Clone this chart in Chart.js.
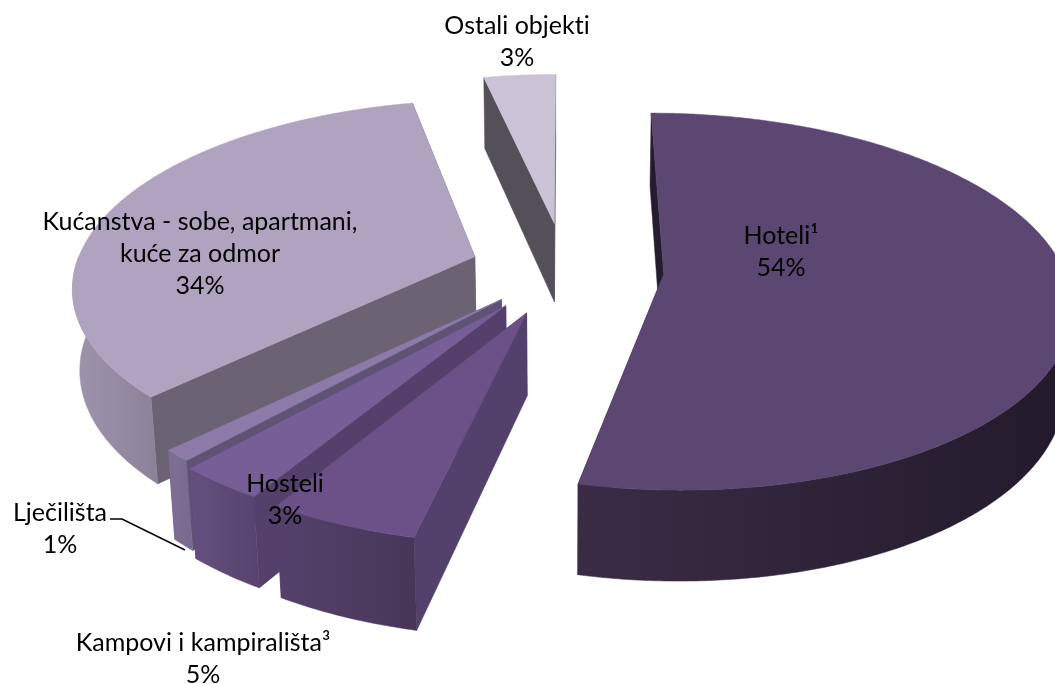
<!DOCTYPE html>
<html>
<head>
<meta charset="utf-8">
<title>Smještajni objekti</title>
<script src="https://cdn.jsdelivr.net/npm/chart.js@4/dist/chart.umd.min.js"></script>
<style>
    html, body { margin: 0; padding: 0; background: #fff; }
    canvas { display: block; }
</style>
</head>
<body>
<canvas id="grafico-pita" width="1055" height="684"></canvas>
<script>
const categories = ['Hoteli¹', 'Kampovi i kampirališta³', 'Hosteli', 'Lječilišta', ['Kućanstva - sobe, apartmani,', 'kuće za odmor'], 'Ostali objekti'];
const shares = [53.5, 5.1, 3.0, 1.0, 34.0, 3.4];

// how far each slice is pulled out of the pie
const explode = [99, 100, 97, 90, 95, 104];

const topColors = ['#5b4772', '#6b5187', '#775e96', '#8d7aa8', '#b0a3c0', '#cac2d6'];
const wallLeft = ['#3b2c45', '#55416a', '#64507e', '#7d6e94', '#9e94ac', '#9e94ac'];
const wallRight = ['#221a2b', '#483659', '#58436f', '#786a8e', '#8c8298', '#8c8298'];
const faceColors = ['#251c2e', '#53416b', '#54406a', '#5f5275', '#6b6374', '#54505a'];

// label centres (first line), line height is the same everywhere
const labelSpots = [
    { x: 781, y: 236 },
    { x: 203, y: 643 },
    { x: 285, y: 484 },
    { x: 60, y: 513 },
    { x: 200, y: 222 },
    { x: 517, y: 26 }
];
const lineHeight = 32;

// back to front
const drawOrder = [5, 4, 3, 2, 1, 0];

const squash = 0.4575;
const perspective = 0.146;
const converge = 0.015;
const thickness = 82;

function makeProjector(arc) {
    return function (X, Z, h) {
        const d = 1 + perspective * Z / arc.outerRadius + converge * h;
        return { x: arc.x + X / d, y: arc.y - squash * Z / d + thickness * h / d };
    };
}

function tracePath(ctx, points, color) {
    ctx.beginPath();
    points.forEach(function (p, i) {
        if (i === 0) ctx.moveTo(p.x, p.y);
        else ctx.lineTo(p.x, p.y);
    });
    ctx.closePath();
    ctx.fillStyle = color;
    ctx.strokeStyle = color;
    ctx.lineWidth = 0.5;
    ctx.fill();
    ctx.stroke();
}

function drawSlice(ctx, arc, i) {
    const project = makeProjector(arc);
    const mid = (arc.startAngle + arc.endAngle) / 2;
    const apexX = Math.cos(mid) * explode[i];
    const apexZ = -Math.sin(mid) * explode[i];

    function rim(angle, h) {
        return project(apexX + Math.cos(angle) * arc.outerRadius, apexZ - Math.sin(angle) * arc.outerRadius, h);
    }
    function sweep(from, to, h) {
        const pts = [];
        const steps = Math.max(2, Math.ceil(Math.abs(to - from) / 0.01));
        for (let s = 0; s <= steps; s++) {
            pts.push(rim(from + (to - from) * s / steps, h));
        }
        return pts;
    }

    // cut faces, the ones turned away go first
    const startFace = [project(apexX, apexZ, 0), rim(arc.startAngle, 0), rim(arc.startAngle, 1), project(apexX, apexZ, 1)];
    const endFace = [project(apexX, apexZ, 0), rim(arc.endAngle, 0), rim(arc.endAngle, 1), project(apexX, apexZ, 1)];
    const startFacing = Math.sin(arc.startAngle - Math.PI / 2) > 0;
    const faces = startFacing ? [endFace, startFace] : [startFace, endFace];
    faces.forEach(function (f) { tracePath(ctx, f, faceColors[i]); });

    // outer wall, only the front half of the rim (angles 0..PI on the canvas)
    const from = Math.max(arc.startAngle, 0);
    const to = Math.min(arc.endAngle, Math.PI);
    if (to > from) {
        const upper = sweep(from, to, 0);
        const lower = sweep(to, from, 1);
        const xs = upper.concat(lower).map(function (p) { return p.x; });
        const grad = ctx.createLinearGradient(Math.min.apply(null, xs), 0, Math.max.apply(null, xs), 0);
        grad.addColorStop(0, wallLeft[i]);
        grad.addColorStop(1, wallRight[i]);
        tracePath(ctx, upper.concat(lower), grad);
    }

    // top face
    tracePath(ctx, [project(apexX, apexZ, 0)].concat(sweep(arc.startAngle, arc.endAngle, 0)), arc.options.backgroundColor);
}

const pie3d = {
    id: 'pie3d',
    beforeDatasetsDraw(chart) {
        const ctx = chart.ctx;
        const arcs = chart.getDatasetMeta(0).data;
        ctx.save();
        drawOrder.forEach(function (i) { drawSlice(ctx, arcs[i], i); });
        ctx.restore();
        return false;
    },
    afterDraw(chart) {
        const ctx = chart.ctx;
        ctx.save();
        ctx.font = '25px Lato';
        ctx.textRendering = 'optimizeSpeed'; // no "ti" ligature
        ctx.fillStyle = '#000';
        ctx.textAlign = 'center';
        ctx.textBaseline = 'middle';
        categories.forEach(function (name, i) {
            const lines = [].concat(name, Math.round(shares[i]) + '%');
            lines.forEach(function (line, n) {
                ctx.fillText(line, labelSpots[i].x, labelSpots[i].y + n * lineHeight);
            });
        });
        // leader line for Lječilišta
        ctx.strokeStyle = '#000';
        ctx.lineWidth = 1.5;
        ctx.beginPath();
        ctx.moveTo(110, 519);
        ctx.lineTo(122, 519);
        ctx.lineTo(185, 550);
        ctx.stroke();
        ctx.restore();
    }
};

new Chart(document.getElementById('grafico-pita'), {
    type: 'pie',
    data: {
        labels: categories,
        datasets: [{
            data: shares,
            backgroundColor: topColors,
            borderWidth: 0,
            radius: 400
        }]
    },
    options: {
        responsive: false,
        animation: false,
        events: [],
        layout: { padding: { left: 75, bottom: 146 } },
        plugins: {
            legend: { display: false },
            tooltip: { enabled: false }
        }
    },
    plugins: [pie3d]
});
</script>
</body>
</html>
